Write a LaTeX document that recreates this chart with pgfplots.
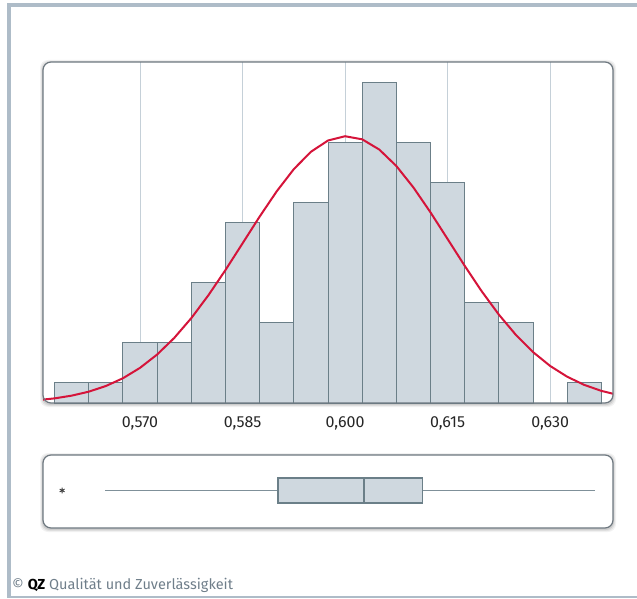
\documentclass[border=0pt]{standalone}
\usepackage{fontspec}
\setmainfont{Fira Sans}
\usepackage{pgfplots}
\pgfplotsset{compat=1.18}
\usepgfplotslibrary{statistics}
\definecolor{barfill}{HTML}{CFD8DF}
\definecolor{baredge}{HTML}{6B7F88}
\definecolor{whiskc}{HTML}{7F9099}
\definecolor{gridc}{HTML}{C5D0D8}
\definecolor{framec}{HTML}{6E7880}
\definecolor{outerc}{HTML}{AEBCC8}
\definecolor{redc}{HTML}{D5143A}
\definecolor{txtc}{HTML}{6F7E8A}
\begin{document}
\begin{tikzpicture}[x=1pt,y=1pt]
\useasboundingbox (0,0) rectangle (637,598);
% outer frame
\fill[outerc] (7,0) rectangle (11,595);
\fill[outerc] (7,591) rectangle (637,595);
\fill[outerc] (7,0) rectangle (637,2);
% panel shadows and backgrounds
\foreach \s/\o in {3/0.05,2/0.07,1/0.09}{
  \fill[black,opacity=\o,rounded corners=8] (43-\s,195-\s-1) rectangle (613+\s,536+\s-1);
  \fill[black,opacity=\o,rounded corners=8] (43-\s,70-\s-1) rectangle (613+\s,143+\s-1);
}
\fill[white,rounded corners=8] (43,195) rectangle (613,536);
\fill[white,rounded corners=8] (43,70) rectangle (613,143);

\begin{axis}[
  at={(43pt,195pt)}, anchor=south west, scale only axis,
  width=570pt, height=341pt,
  xmin=0.5558, xmax=0.6392, ymin=0, ymax=17,
  axis line style={draw=none},
  ytick=\empty,
  xtick={0.570,0.585,0.600,0.615,0.630},
  xticklabels={{0,570},{0,585},{0,600},{0,615},{0,630}},
  major tick length=0pt,
  xmajorgrids,
  grid style={gridc, line width=0.9pt},
  xticklabel style={font=\fontsize{16}{18}\selectfont, text=black!85, yshift=-10pt},
]
\addplot[ybar interval, fill=barfill, draw=baredge, line width=1pt] coordinates {
(0.5575,1) (0.5625,1) (0.5675,3) (0.5725,3) (0.5775,6) (0.5825,9) (0.5875,4)
(0.5925,10) (0.5975,13) (0.6025,16) (0.6075,13) (0.6125,11) (0.6175,5)
(0.6225,4) (0.6275,0) (0.6325,1) (0.6375,1)};
\addplot[redc, line width=2pt, no markers] coordinates {
(0.5550,0.142) (0.5575,0.231) (0.5600,0.367) (0.5625,0.565) (0.5650,0.847)
(0.5675,1.235) (0.5700,1.753) (0.5725,2.417) (0.5750,3.243) (0.5775,4.232)
(0.5800,5.371) (0.5825,6.630) (0.5850,7.960) (0.5875,9.294) (0.5900,10.555)
(0.5925,11.659) (0.5950,12.524) (0.5975,13.086) (0.6000,13.299) (0.6025,13.145)
(0.6050,12.636) (0.6075,11.815) (0.6100,10.744) (0.6125,9.502) (0.6150,8.174)
(0.6175,6.839) (0.6200,5.565) (0.6225,4.405) (0.6250,3.391) (0.6275,2.538)
(0.6300,1.848) (0.6325,1.309) (0.6350,0.902) (0.6375,0.604) (0.6400,0.394)};
\end{axis}
\draw[framec, line width=1.2pt, rounded corners=8] (43,195) rectangle (613,536);

\begin{axis}[
  at={(43pt,70pt)}, anchor=south west, scale only axis,
  width=570pt, height=73pt,
  xmin=0.5558, xmax=0.6392, ymin=0, ymax=1,
  axis lines=none,
]
\addplot[draw=whiskc, fill=barfill, line width=1.5pt,
  boxplot/every whisker/.style={draw=whiskc, line width=1.6pt},
  boxplot/every box/.style={draw=baredge, line width=1.5pt},
  boxplot/every median/.style={draw=baredge, line width=2.2pt},
  boxplot prepared={lower whisker=0.5649, lower quartile=0.5902, median=0.6028,
    upper quartile=0.6113, upper whisker=0.6366, draw position=0.514,
    box extend=0.34, whisker extend=0, draw direction=x}] coordinates {};
\addplot[only marks, mark=asterisk, mark size=2.8pt, black!75, line width=0.9pt] coordinates {(0.5586,0.514)};
\end{axis}
\draw[framec, line width=1.2pt, rounded corners=8] (43,70) rectangle (613,143);

\node[anchor=base west, inner sep=0, text=txtc, font=\fontsize{14.5}{16}\selectfont]
  at (12,9) {\textcopyright\ {\color{black}\bfseries QZ} Qualität und Zuverlässigkeit};
\end{tikzpicture}
\end{document}
